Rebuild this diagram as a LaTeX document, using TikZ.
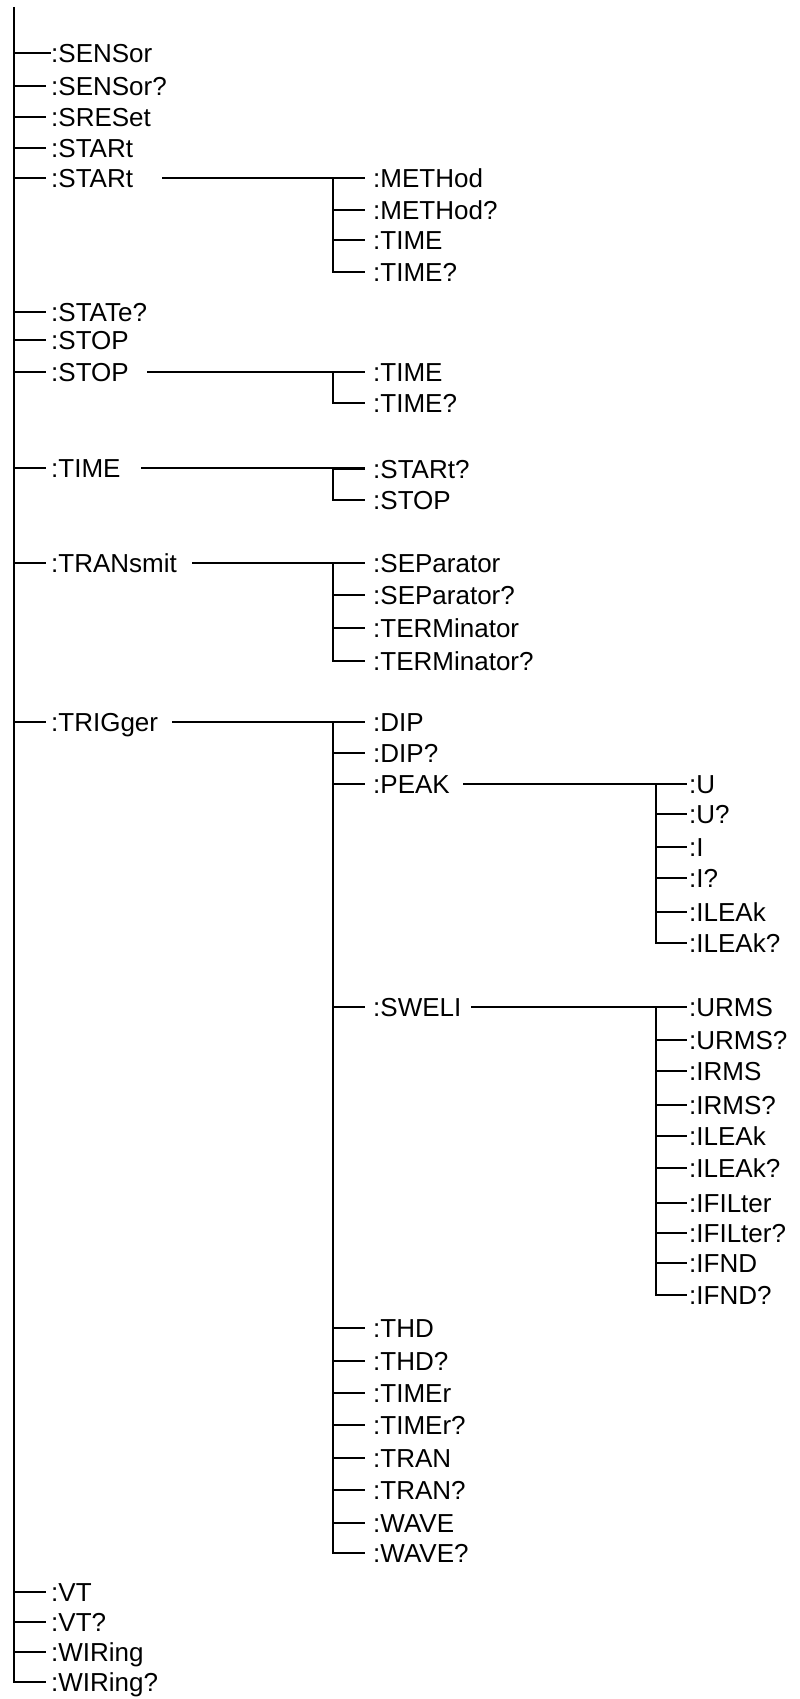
\documentclass[tikz,border=0pt]{standalone}
\usepackage{fontspec}
\setmainfont{Liberation Sans}
\begin{document}
\begin{tikzpicture}[x=1pt,y=-1pt,
  lbl/.style={anchor=base west, inner sep=0pt, font=\fontsize{26}{31}\selectfont},
  wire/.style={line width=2.1pt, line cap=rect}]
\useasboundingbox (0,0) rectangle (800,1699);
% main trunk
\coordinate (top) at (14,7);
\coordinate (bot) at (14,1682);
\draw[wire, line cap=butt] (top) -- (bot);
% level 1 leaves
\foreach \y/\t [count=\i] in {53/{:SENSor},86/{:SENSor?},117/{:SRESet},148/{:STARt},178/{:STARt},
  312/{:STATe?},340/{:STOP},372/{:STOP},468/{:TIME},563/{:TRANsmit},722/{:TRIGger},
  1592/{:VT},1622/{:VT?},1652/{:WIRing},1682/{:WIRing?}}{
  \node[lbl] (La\i) at (51,\y+9.3) {\t};
  \coordinate (Ta\i) at (14,\y);
  \coordinate (Ua\i) at (45,\y);
  \draw[wire] (Ta\i) -- (Ua\i);
}
\coordinate (Ufirst) at (50,53);
\draw[wire] (Ta1) -- (Ufirst);
% level 1 -> level 2 branch lines
\foreach \i/\y/\xs in {5/178/163,8/372/148,9/468/142,10/563/193,11/722/173}{
  \coordinate (Sa\i) at (\xs,\y);
  \coordinate (Ea\i) at (364,\y);
  \draw[wire] (Sa\i) -- (Ea\i);
}
% level 2 groups
\newcommand\grouptwo[2]{%
  \foreach \y/\t [count=\j] in {#2}{
    \node[lbl] (Lb#1-\j) at (373,\y+9.3) {\t};
    \coordinate (Tb#1-\j) at (333,\y);
    \coordinate (Ub#1-\j) at (364,\y);
    \draw[wire] (Tb#1-\j) -- (Ub#1-\j);
  }
}
\grouptwo{st}{178/{:METHod},210/{:METHod?},240/{:TIME},272/{:TIME?}}
\draw[wire] (Tbst-1) -- (Tbst-4);
\grouptwo{sp}{372/{:TIME},403/{:TIME?}}
\draw[wire] (Tbsp-1) -- (Tbsp-2);
\grouptwo{ti}{469/{:STARt?},500/{:STOP}}
\draw[wire] (Tbti-1) -- (Tbti-2);
\grouptwo{tr}{563/{:SEParator},595/{:SEParator?},628/{:TERMinator},661/{:TERMinator?}}
\draw[wire] (Tbtr-1) -- (Tbtr-4);
\grouptwo{tg}{722/{:DIP},753/{:DIP?},784/{:PEAK},1007/{:SWELI},1328/{:THD},1361/{:THD?},1393/{:TIMEr},1425/{:TIMEr?},1458/{:TRAN},1490/{:TRAN?},1523/{:WAVE},1553/{:WAVE?}}
\draw[wire] (Tbtg-1) -- (Tbtg-12);
% level 2 -> level 3 branch lines
\coordinate (Spk) at (464,784);
\coordinate (Epk) at (686,784);
\draw[wire] (Spk) -- (Epk);
\coordinate (Ssw) at (472,1007);
\coordinate (Esw) at (686,1007);
\draw[wire] (Ssw) -- (Esw);
% level 3 groups
\newcommand\groupthree[2]{%
  \foreach \y/\t [count=\j] in {#2}{
    \node[lbl] (Lc#1-\j) at (689,\y+9.3) {\t};
    \coordinate (Tc#1-\j) at (656,\y);
    \coordinate (Uc#1-\j) at (686,\y);
    \draw[wire] (Tc#1-\j) -- (Uc#1-\j);
  }
}
\groupthree{pk}{784/{:U},814/{:U?},847/{:I},878/{:I?},912/{:ILEAk},943/{:ILEAk?}}
\draw[wire] (Tcpk-1) -- (Tcpk-6);
\groupthree{sw}{1007/{:URMS},1040/{:URMS?},1071/{:IRMS},1105/{:IRMS?},1136/{:ILEAk},1168/{:ILEAk?},1203/{:IFILter},1233/{:IFILter?},1263/{:IFND},1295/{:IFND?}}
\draw[wire] (Tcsw-1) -- (Tcsw-10);
\end{tikzpicture}
\end{document}
